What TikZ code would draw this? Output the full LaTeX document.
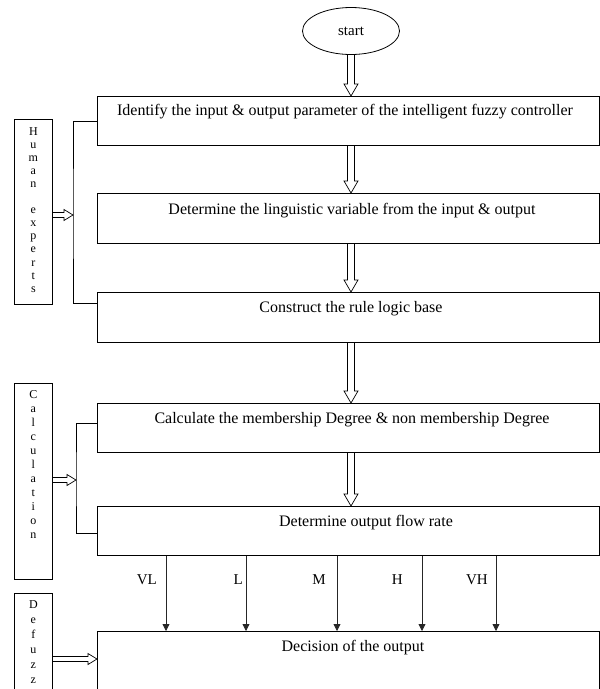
\documentclass[tikz,border=0pt]{standalone}
\usepackage{fontspec}
\setmainfont{Liberation Serif}
\usetikzlibrary{arrows.meta,calc,shapes.geometric}
\tikzset{
  stepbox/.style={draw, line width=0.8pt, minimum width=502pt, anchor=north west, inner sep=0pt},
  steptext/.style={font=\fontsize{16}{18}\selectfont, inner sep=0pt},
  sidebox/.style={draw, line width=0.8pt, minimum width=38pt, anchor=north west, inner sep=0pt},
  sidetext/.style={font=\fontsize{12}{13.1}\selectfont, align=center, anchor=north, inner sep=0pt},
  joinline/.style={line width=0.8pt},
  hollowdown/.style={line width=0.7pt, to path={let \p1=(\tikztostart), \p2=(\tikztotarget) in
      ({\x1-3.5pt},\y1) -- ({\x1-3.5pt},{\y2+12pt}) -- ({\x1-7pt},{\y2+12pt}) -- (\x1,\y2)
      -- ({\x1+7pt},{\y2+12pt}) -- ({\x1+3.5pt},{\y2+12pt}) -- ({\x1+3.5pt},\y1)}},
  hollowright/.style={line width=0.7pt, to path={let \p1=(\tikztostart), \p2=(\tikztotarget) in
      (\x1,{\y1+2.5pt}) -- ({\x2-9pt},{\y1+2.5pt}) -- ({\x2-9pt},{\y1+5.5pt}) -- (\x2,\y1)
      -- ({\x2-9pt},{\y1-5.5pt}) -- ({\x2-9pt},{\y1-2.5pt}) -- (\x1,{\y1-2.5pt})}},
  valarrow/.style={line width=0.8pt, draw=black!85, -{Triangle[length=7pt,width=7pt]}},
  vallabel/.style={font=\fontsize{15}{17}\selectfont, anchor=east, inner sep=0pt}
}

\begin{document}
\begin{tikzpicture}[x=1pt,y=-1pt]

        \useasboundingbox (0,0) rectangle (600,689);
        \clip (0,0) rectangle (600,689);

        \node[draw, ellipse, line width=0.8pt, minimum width=97pt, minimum height=47pt, font=\fontsize{15}{17}\selectfont] (start) at (351,31) {start};

        \node[stepbox, minimum height=49pt] (identify) at (97,96) {};
        \node[stepbox, minimum height=50pt] (linguistic) at (97,193) {};
        \node[stepbox, minimum height=50pt] (rule) at (97,292) {};
        \node[stepbox, minimum height=49pt] (membership) at (97,403) {};
        \node[stepbox, minimum height=49pt] (flowrate) at (97,506) {};
        \node[stepbox, minimum height=90pt] (decision) at (97,631) {};

        \node[steptext] at (345,112) {Identify the input \& output parameter of the intelligent fuzzy controller};
        \node[steptext] at (352,211) {Determine the linguistic variable from the input \& output};
        \node[steptext] at (351,309) {Construct the rule logic base};
        \node[steptext] at (352,420) {Calculate the membership Degree \& non membership Degree};
        \node[steptext] at (366,523) {Determine output flow rate};
        \node[steptext] at (353,648) {Decision of the output};

        \draw[hollowdown] (start.south) to (identify.north);
        \draw[hollowdown] (identify.south -| start.south) to (linguistic.north);
        \draw[hollowdown] (linguistic.south -| start.south) to (rule.north);
        \draw[hollowdown] (rule.south -| start.south) to (membership.north);
        \draw[hollowdown] (membership.south -| start.south) to (flowrate.north);

        \node[sidebox, minimum height=185pt] (human) at (14,119) {};
        \node[sidetext] at (human.north) [yshift=-8pt] {H\\u\\m\\a\\n\\[13.1pt]e\\x\\p\\e\\r\\t\\s};
        \node[sidebox, minimum height=196pt] (calculation) at (14,383) {};
        \node[sidetext, font=\fontsize{12}{14}\selectfont] at (calculation.north) [yshift=-7pt] {C\\a\\l\\c\\u\\l\\a\\t\\i\\o\\n};
        \node[sidebox, minimum height=120pt] (defuzz) at (14,593) {};
        \node[sidetext, font=\fontsize{12}{15}\selectfont] at (defuzz.north) [yshift=-7pt] {D\\e\\f\\u\\z\\z};

        \coordinate (hjoin) at (73,215);
        \coordinate (cjoin) at (76,480);
        \coordinate (djoin) at (97,659);

        \draw[joinline] (identify.west) -| (hjoin) |- ([yshift=14pt]rule.west);
        \draw[joinline] ([yshift=4.5pt]membership.west) -| (cjoin) |- ([yshift=-2.5pt]flowrate.west);

        \draw[hollowright] (human.east |- hjoin) to (hjoin);
        \draw[hollowright] (calculation.east |- cjoin) to (cjoin);
        \draw[hollowright] (defuzz.east |- djoin) to (djoin);

        \node[vallabel] (vl) at (157,580) {VL};
        \node[vallabel] (l) at (243,580) {L};
        \node[vallabel] (m) at (326,580) {M};
        \node[vallabel] (h) at (403,580) {H};
        \node[vallabel] (vh) at (488,580) {VH};

        \draw[valarrow] ([xshift=69pt]flowrate.south west) -- ([xshift=69pt]decision.north west);
        \draw[valarrow] ([xshift=149pt]flowrate.south west) -- ([xshift=149pt]decision.north west);
        \draw[valarrow] ([xshift=240pt]flowrate.south west) -- ([xshift=240pt]decision.north west);
        \draw[valarrow] ([xshift=325pt]flowrate.south west) -- ([xshift=325pt]decision.north west);
        \draw[valarrow] ([xshift=399pt]flowrate.south west) -- ([xshift=399pt]decision.north west);

\end{tikzpicture}
\end{document}
